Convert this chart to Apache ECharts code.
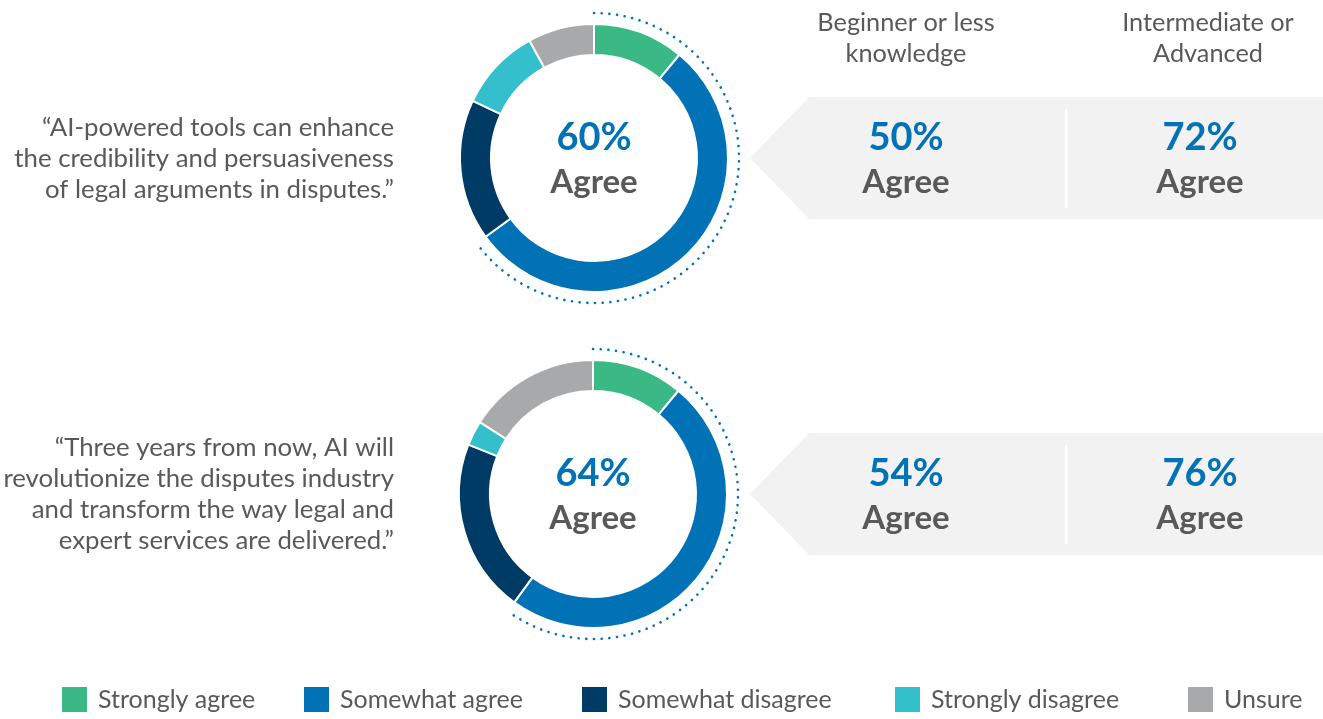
<!DOCTYPE html>
<html lang="en">
<head>
    <meta charset="UTF-8">
    <title>AI in disputes - agreement</title>
    <script src="https://cdn.jsdelivr.net/npm/echarts/dist/echarts.min.js"></script>
    <style>
        html, body { margin: 0; padding: 0; background: #fff; }
    </style>
</head>
<body>
    <div id="main" style="width: 1323px; height: 719px;"></div>
    <script>
        const myChart = echarts.init(document.getElementById('main'));

        // data
        const categories = ['Strongly agree', 'Somewhat agree', 'Somewhat disagree', 'Strongly disagree', 'Unsure'];
        const enhanceShares = [11, 54, 17, 10, 8];
        const revolutionizeShares = [11, 49, 21, 3, 16];
        const overallAgree = ['60%', '64%'];
        const beginnerAgree = ['50%', '54%'];
        const advancedAgree = ['72%', '76%'];
        const statements = [
            '\u201cAI-powered tools can enhance\nthe credibility and persuasiveness\nof legal arguments in disputes.\u201d',
            '\u201cThree years from now, AI will\nrevolutionize the disputes industry\nand transform the way legal and\nexpert services are delivered.\u201d'
        ];
        const groupHeaders = ['Beginner or less\nknowledge', 'Intermediate or\nAdvanced'];

        const palette = ['#3bb985', '#0072b5', '#003b66', '#33bfcc', '#a7a9aa'];
        const blue = '#0072b5';
        const grey = '#595959';
        const font = 'Lato, "Open Sans", sans-serif';

        const rows = [
            { shares: enhanceShares, cx: 594, cy: 158 },
            { shares: revolutionizeShares, cx: 593, cy: 494 }
        ];

        const series = rows.map(function (r) {
            return {
                type: 'pie',
                silent: true,
                animation: false,
                center: [r.cx, r.cy],
                radius: [103, 134],
                startAngle: 90,
                clockwise: true,
                label: { show: false },
                labelLine: { show: false },
                itemStyle: { borderColor: '#fff', borderWidth: 2 },
                data: categories.map(function (c, i) {
                    return { name: c, value: r.shares[i] };
                })
            };
        });

        const graphic = [];
        const colX = [906, 1200];
        const headerX = [906, 1208];

        // column headers
        groupHeaders.forEach(function (h, i) {
            graphic.push({
                type: 'text',
                style: {
                    text: h, x: headerX[i], y: 38, textAlign: 'center', textVerticalAlign: 'middle',
                    fontFamily: font, fontSize: 25.3, lineHeight: 31, fill: grey
                }
            });
        });

        rows.forEach(function (r, k) {
            const total = r.shares.reduce(function (a, b) { return a + b; }, 0);
            const agreeFrac = (r.shares[0] + r.shares[1]) / total;
            const top = r.cy - 61, bottom = r.cy + 61;

            // dotted arc around the agree part
            graphic.push({
                type: 'arc',
                silent: true,
                shape: {
                    cx: r.cx, cy: r.cy, r: 145,
                    startAngle: -Math.PI / 2,
                    endAngle: -Math.PI / 2 + agreeFrac * Math.PI * 2,
                    clockwise: true
                },
                style: { stroke: blue, fill: null, lineWidth: 2.6, lineDash: [0.1, 7.6], lineCap: 'round' }
            });

            // statement text
            graphic.push({
                type: 'text',
                style: {
                    text: statements[k], x: 394, y: r.cy + 0.5, textAlign: 'right', textVerticalAlign: 'middle',
                    fontFamily: font, fontSize: 25.8, lineHeight: 31, fill: grey
                }
            });

            // centre labels
            graphic.push({
                type: 'text',
                style: {
                    text: overallAgree[k], x: r.cx, y: r.cy - 20, textAlign: 'center', textVerticalAlign: 'middle',
                    fontFamily: font, fontSize: 38, fontWeight: 'bold', fill: blue
                }
            });
            graphic.push({
                type: 'text',
                style: {
                    text: 'Agree', x: r.cx, y: r.cy + 24, textAlign: 'center', textVerticalAlign: 'middle',
                    fontFamily: font, fontSize: 33, fontWeight: 'bold', fill: grey
                }
            });

            // arrow panel
            graphic.push({
                type: 'polygon',
                silent: true,
                shape: { points: [[750, r.cy], [809, top], [1323, top], [1323, bottom], [809, bottom]] },
                style: { fill: '#f2f2f2' }
            });
            graphic.push({
                type: 'rect',
                silent: true,
                shape: { x: 1065, y: top + 12, width: 2.5, height: 99 },
                style: { fill: '#fff' }
            });

            [beginnerAgree[k], advancedAgree[k]].forEach(function (v, i) {
                graphic.push({
                    type: 'text',
                    style: {
                        text: v, x: colX[i], y: r.cy - 20, textAlign: 'center', textVerticalAlign: 'middle',
                        fontFamily: font, fontSize: 38, fontWeight: 'bold', fill: blue
                    }
                });
                graphic.push({
                    type: 'text',
                    style: {
                        text: 'Agree', x: colX[i], y: r.cy + 24, textAlign: 'center', textVerticalAlign: 'middle',
                        fontFamily: font, fontSize: 33, fontWeight: 'bold', fill: grey
                    }
                });
            });
        });

        // one legend per item so each sits where it does in the original
        const legendX = [60, 302, 580, 893, 1186];
        const legends = categories.map(function (c, i) {
            return {
                data: [c],
                left: legendX[i],
                top: 685,
                padding: 0,
                icon: 'rect',
                itemWidth: 27,
                itemHeight: 27,
                selectedMode: false,
                textStyle: { fontFamily: font, fontSize: 25, color: grey, padding: [0, 0, 0, 5] }
            };
        });

        myChart.setOption({
            animation: false,
            color: palette,
            legend: legends,
            graphic: graphic,
            series: series
        });
    </script>
</body>
</html>
